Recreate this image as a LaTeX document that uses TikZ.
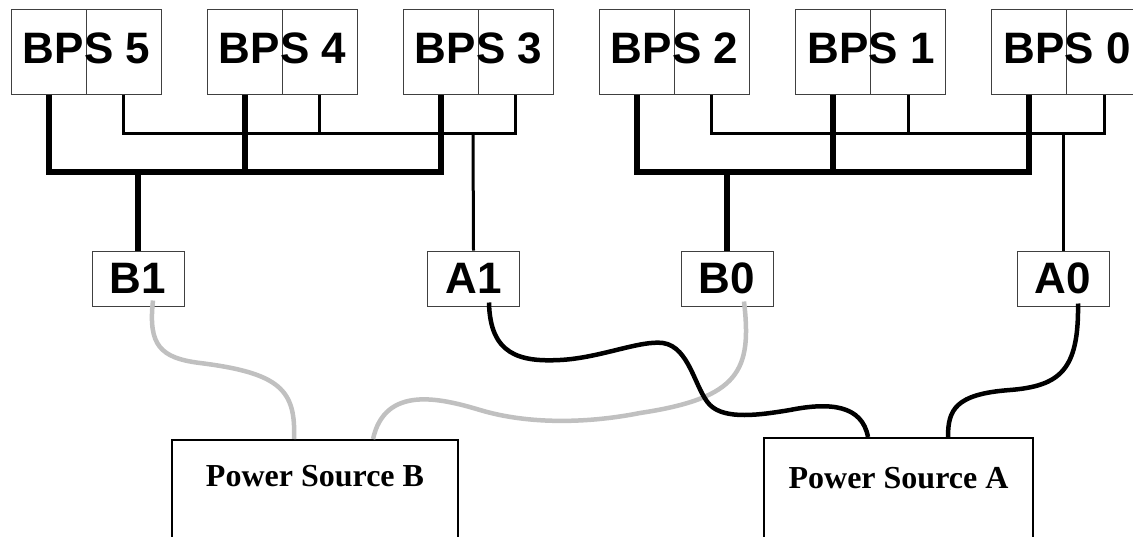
\documentclass[tikz,border=0pt]{standalone}
\usepackage{fontspec}
\setmainfont{Liberation Serif}
\setsansfont{Liberation Sans}
\usetikzlibrary{calc,positioning}
\definecolor{cablegray}{RGB}{192,192,192}

\begin{document}
\begin{tikzpicture}[x=1pt,y=-1pt,
    half/.style={draw=black!75, line width=1pt, minimum width=75pt, minimum height=85pt, inner sep=0},
    bpstext/.style={font=\sffamily\bfseries\fontsize{44}{44}\selectfont, inner sep=0, yshift=3.5pt},
    feed/.style={draw=black!75, line width=1pt, minimum width=92pt, minimum height=55pt, inner sep=0,
                 font=\sffamily\bfseries\fontsize{44}{44}\selectfont},
    source/.style={draw, line width=2pt, inner sep=0, anchor=north,
                   font=\bfseries\fontsize{32}{32}\selectfont, text height=46pt, text depth=64pt},
    heavy/.style={line width=6pt},
    light/.style={line width=3pt},
    cableA/.style={line width=4.5pt},
    cableB/.style={line width=4.5pt, color=cablegray}]

    \useasboundingbox (0,0) rectangle (1133,536);
    \fill [white] (0,0) rectangle (1133,536);
    \clip (0,0) rectangle (1133,536);

    % supplies, two halves each
    \node [half] (bps5l) at (48.5,51.5) {};
    \node [half] (bps5r) at (123.5,51.5) {};
    \node [half] (bps4l) at (244.5,51.5) {};
    \node [half] (bps4r) at (319.5,51.5) {};
    \node [half] (bps3l) at (440.5,51.5) {};
    \node [half] (bps3r) at (515.5,51.5) {};
    \node [half] (bps2l) at (636.5,51.5) {};
    \node [half] (bps2r) at (711.5,51.5) {};
    \node [half] (bps1l) at (833,51.5) {};
    \node [half] (bps1r) at (908,51.5) {};
    \node [half] (bps0l) at (1029,51.5) {};
    \node [half] (bps0r) at (1104,51.5) {};

    \node [bpstext] (bps5) at (bps5l.east) {BPS 5};
    \node [bpstext] (bps4) at (bps4l.east) {BPS 4};
    \node [bpstext] (bps3) at (bps3l.east) {BPS 3};
    \node [bpstext] (bps2) at (bps2l.east) {BPS 2};
    \node [bpstext] (bps1) at (bps1l.east) {BPS 1};
    \node [bpstext] (bps0) at (bps0l.east) {BPS 0};

    % feeds
    \node [feed] (b1) at (138,278.5) {B1};
    \node [feed] (a1) at (473.5,278.5) {A1};
    \node [feed] (b0) at (727,278.5) {B0};
    \node [feed] (a0) at (1063,278.5) {A0};

    % sources
    \node [source, minimum width=286pt] (psb) at (315,439) {Power Source B};
    \node [source, minimum width=269pt, text height=50pt] (psa) at (898.5,437) {Power Source A};

    % bus taps
    \coordinate (tb1) at (138,172);
    \coordinate (ta1) at (473,133);
    \coordinate (tb0) at (727,172);
    \coordinate (ta0) at (1063,133);

    % left group
    \draw [heavy] (bps5l.south) |- (tb1) -| (bps3l.south);
    \draw [heavy] (bps4l.south) -- (bps4l.south |- tb1);
    \draw [heavy] (tb1) -- (b1.north);
    \draw [light] (bps5r.south) |- (ta1) -| (bps3r.south);
    \draw [light] (bps4r.south) -- (bps4r.south |- ta1);
    \draw [light] (ta1) -- (a1.north);

    % right group
    \draw [heavy] (bps2l.south) |- (tb0) -| (bps0l.south);
    \draw [heavy] (bps1l.south) -- (bps1l.south |- tb0);
    \draw [heavy] (tb0) -- (b0.north);
    \draw [light] (bps2r.south) |- (ta0) -| (bps0r.south);
    \draw [light] (bps1r.south) -- (bps1r.south |- ta0);
    \draw [light] (ta0) -- (a0.north);

    % cables to source B
    \draw [cableB] ([xshift=15pt,yshift=6pt]b1.south) .. controls (148,345) and (160,358) .. (200,363)
        .. controls (280,373) and (296,390) .. ([xshift=-21pt]psb.north);
    \draw [cableB] ([xshift=17pt,yshift=5pt]b0.south) .. controls (752,370) and (740,398) .. (640,413)
        .. controls (590,423) and (530,425) .. (480,410)
        .. controls (440,398) and (385,385) .. ([xshift=58pt]psb.north);

    % cables to source A
    \draw [cableA] ([xshift=15.5pt,yshift=4pt]a1.south) .. controls (490,355) and (520,362) .. (560,360)
        .. controls (600,358) and (640,340) .. (663,343)
        .. controls (690,347) and (695,390) .. (710,405)
        .. controls (725,420) and (760,415) .. (790,410)
        .. controls (830,402) and (862,405) .. ([xshift=-30.5pt]psa.north);
    \draw [cableA] ([xshift=15pt,yshift=3pt]a0.south) .. controls (1079,370) and (1060,386) .. (1010,390)
        .. controls (955,394) and (948,410) .. ([xshift=49.5pt]psa.north);
\end{tikzpicture}
\end{document}
